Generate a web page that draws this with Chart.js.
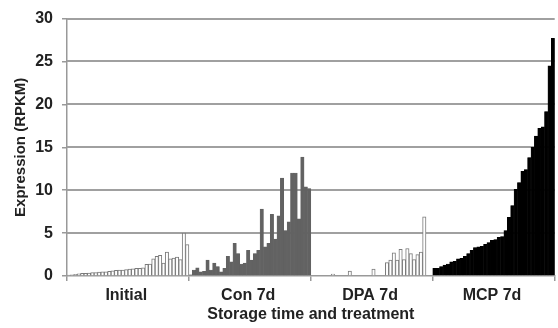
<!DOCTYPE html>
<html>
<head>
<meta charset="utf-8">
<script src="https://cdn.jsdelivr.net/npm/chart.js@4"></script>
<style>
  body { margin: 0; background: #fff; }
</style>
</head>
<body>
<canvas id="exprChart" width="558" height="328"></canvas>
<script>
// groups on the x axis, 36 genes in each
const groups = ['Initial', 'Con 7d', 'DPA 7d', 'MCP 7d'];
const yTicks = [0, 5, 10, 15, 20, 25, 30];

// RPKM values
const initial = [0.1, 0.15, 0.2, 0.25, 0.3, 0.3, 0.35, 0.4, 0.4, 0.45, 0.5, 0.5, 0.55, 0.6, 0.65, 0.7, 0.7, 0.75, 0.8,
    0.85, 0.9, 0.9, 0.95, 1.35, 1.4, 2.0, 2.3, 2.4, 1.5, 2.8, 2.0, 2.1, 2.2, 1.9, 5.0, 3.65];
const con7d = [0.15, 0.7, 0.95, 0.5, 0.55, 1.85, 0.7, 1.5, 1.1, 0.5, 0.9, 2.3, 1.65, 3.8, 2.6, 1.4, 1.5, 3.0,
    1.85, 2.6, 3.0, 7.8, 3.4, 3.8, 7.2, 4.3, 7.0, 11.4, 5.3, 6.3, 12.0, 12.0, 6.65, 13.85, 10.4, 10.2];
const dpa7d = [0, 0, 0, 0, 0, 0, 0.23, 0, 0, 0, 0, 0.58, 0, 0, 0, 0, 0, 0, 0.8, 0, 0, 0,
    1.55, 1.85, 2.7, 1.85, 3.1, 1.9, 3.2, 2.6, 1.9, 2.5, 2.8, 6.9, 0, 0];
const mcp7d = [0.9, 0.9, 1.1, 1.27, 1.4, 1.65, 1.7, 2.0, 2.05, 2.3, 2.6, 3.0, 3.3, 3.4, 3.45, 3.7, 3.9, 4.15,
    4.25, 4.5, 4.6, 5.3, 6.85, 8.2, 10.1, 10.9, 12.2, 12.4, 13.8, 15.0, 16.3, 17.2, 17.4, 19.15, 24.5, 27.7];

const series = [initial, con7d, dpa7d, mcp7d];
const perGroup = initial.length;

// one category per bar, labelled by its group
const labels = [];
groups.forEach(g => { for (let i = 0; i < perGroup; i++) labels.push(g); });

const fills = ['#ffffff', '#626262', '#ffffff', '#000000'];
const borders = ['#7a7a7a', '#626262', '#7a7a7a', '#000000'];

const datasets = series.map((vals, g) => {
    const data = labels.map(() => null);
    vals.forEach((v, i) => { data[g * perGroup + i] = v; });
    return {
        label: groups[g],
        data: data,
        backgroundColor: fills[g],
        borderColor: borders[g],
        borderWidth: (g === 0 || g === 2) ? 1 : 0.5,
        borderSkipped: 'start',
        barPercentage: 1,
        categoryPercentage: 1,
        grouped: false
    };
});

const boldFont = size => ({ family: "'Liberation Sans', Arial, sans-serif", size: size, weight: 'bold' });

// horizontal grid lines across the plot, under the bars
const yGridLines = {
    id: 'yGridLines',
    beforeDatasetsDraw(chart) {
        const { ctx, chartArea, scales } = chart;
        ctx.save();
        ctx.fillStyle = 'rgb(160,160,160)';
        yTicks.slice(1).forEach(t => {
            const y = Math.round(scales.y.getPixelForValue(t));
            ctx.fillRect(chartArea.left, y - 1, chartArea.right - chartArea.left, 2);
        });
        ctx.restore();
    }
};

new Chart(document.getElementById('exprChart').getContext('2d'), {
    type: 'bar',
    data: { labels: labels, datasets: datasets },
    options: {
        responsive: false,
        animation: false,
        layout: { padding: { top: 4, right: 1, bottom: 0, left: 0 } },
        plugins: { legend: { display: false }, tooltip: { enabled: false } },
        scales: {
            x: {
                ticks: {
                    autoSkip: false,
                    maxRotation: 0,
                    padding: 5,
                    color: '#222',
                    font: boldFont(16),
                    callback: (v, i) => (i % perGroup === perGroup / 2 - 1) ? groups[Math.floor(i / perGroup)] : ''
                },
                grid: {
                    drawOnChartArea: false,
                    tickLength: 5,
                    lineWidth: 1.5,
                    color: c => (c.type !== 'tick' || c.index % perGroup === 0) ? '#999' : 'rgba(0,0,0,0)'
                },
                border: { color: '#999', width: 1.5 },
                title: {
                    display: true,
                    text: 'Storage time and treatment',
                    color: '#222',
                    font: boldFont(16),
                    padding: { top: 0, bottom: 4 }
                },
                afterFit: s => { s.height = 52; }
            },
            y: {
                min: yTicks[0],
                max: yTicks[yTicks.length - 1],
                ticks: { stepSize: 5, padding: 9, color: '#222', font: boldFont(16) },
                grid: { drawOnChartArea: false, color: '#999', lineWidth: 1.5, tickLength: 5 },
                border: { color: '#999', width: 1.5 },
                title: {
                    display: true,
                    text: 'Expression (RPKM)',
                    color: '#222',
                    font: boldFont(15),
                    padding: { top: 12, bottom: 0 }
                },
                afterFit: s => { s.width = 67; }
            }
        }
    },
    plugins: [yGridLines]
});
</script>
</body>
</html>
